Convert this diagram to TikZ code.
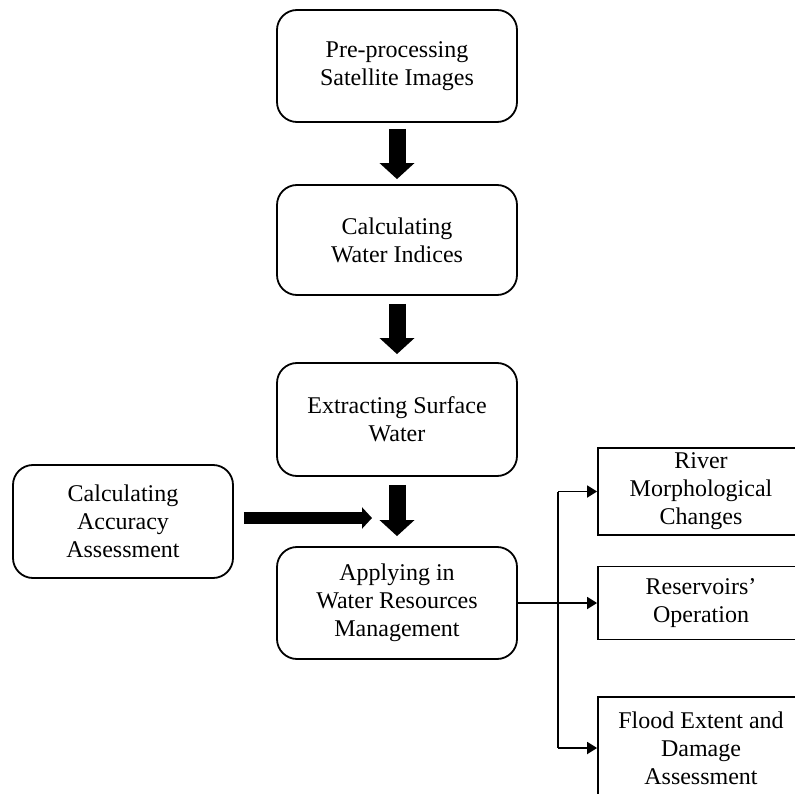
\documentclass[tikz,border=0pt]{standalone}
\usepackage{fontspec}
\setmainfont{Liberation Serif}
\usetikzlibrary{arrows.meta}
\begin{document}
\begin{tikzpicture}[x=1pt,y=-1pt,
  txt/.style={font=\fontsize{24}{28}\selectfont, align=center, inner sep=0pt},
  mainbox/.style={txt, draw, line width=1.8pt, rounded corners=20pt, minimum width=240pt},
  sidebox/.style={txt, draw, line width=1.8pt, minimum width=206pt},
  fatarrow/.style={line width=17pt, -{Triangle[width=34pt,length=16pt]}},
  sidearrow/.style={line width=12pt, -{Triangle[width=21pt,length=10pt]}},
  thinline/.style={line width=1.8pt},
  thinarrow/.style={line width=1.8pt, -{Triangle[width=12pt,length=10pt]}}]
\useasboundingbox (0,0) rectangle (795,794);
\clip (0,0) rectangle (795,794);
\fill[white] (0,0) rectangle (795,794);

\node[mainbox, minimum height=112pt] (b1) at (397,66) {Pre-processing\\Satellite Images};
\node[mainbox, minimum height=110pt] (b2) at (397,240) {Calculating\\Water Indices};
\node[mainbox, minimum height=113pt] (b3) at (397,419.5) {Extracting Surface\\Water};
\node[mainbox, minimum height=112pt] (b5) at (397,603) {Applying in\\Water Resources\\Management};
\node[mainbox, minimum width=220pt, minimum height=113pt] (acc) at (123,521.5) {Calculating\\Accuracy\\Assessment};

\node[sidebox, minimum height=87pt] (river) at (701,491.5) {River\\Morphological\\Changes};
\node[sidebox, minimum height=73pt] (res) at (701,603) {Reservoirs'\\Operation};
\node[sidebox, minimum height=102pt] (flood) at (701,748) {Flood Extent and\\Damage\\Assessment};

\draw[fatarrow, shorten <=6pt, shorten >=5pt] (b1.south) -- (b2.north);
\draw[fatarrow, shorten <=8pt, shorten >=8pt] (b2.south) -- (b3.north);
\draw[fatarrow, shorten <=8pt, shorten >=10pt] (b3.south) -- (b5.north);

\coordinate (htip) at (372,518);
\draw[sidearrow, shorten <=10pt] (acc.east |- htip) -- (htip);

\coordinate (vx) at (558,0);
\draw[thinarrow] (b5.east) -- (res.west);
\draw[thinline] (vx |- river.west) -- (vx |- flood.west);
\draw[thinarrow] (vx |- river.west) -- (river.west);
\draw[thinarrow] (vx |- flood.west) -- (flood.west);
\end{tikzpicture}
\end{document}
